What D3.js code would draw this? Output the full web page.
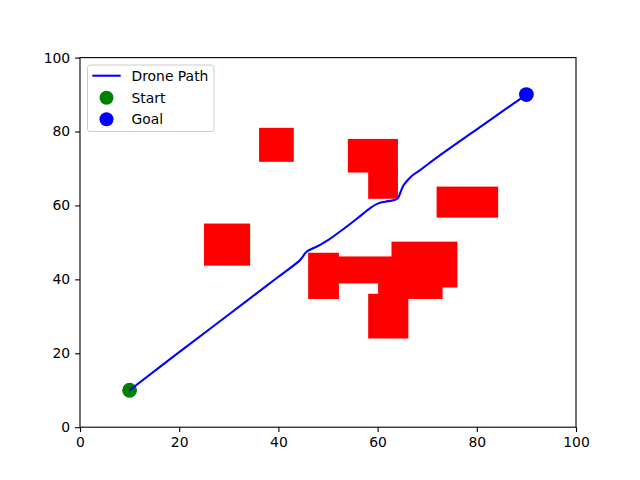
<!DOCTYPE html>
<html><head><meta charset="utf-8">
<script src="https://cdn.jsdelivr.net/npm/d3@7"></script>
<style>body{margin:0;background:#fff}svg{display:block}text{font-family:"DejaVu Sans",sans-serif}</style>
</head><body><svg id="c" width="640" height="480"></svg>
<script>
const xTicks=[0,20,40,60,80,100];
const yTicks=[0,20,40,60,80,100];
const obsX=[36.1,25.0,54.0,58.1,46.0,50.0,62.8,58.1,60.1,71.9];
const obsY=[71.8,43.7,68.9,61.8,34.7,38.9,37.8,24.0,34.7,56.7];
const obsW=[7.0,9.3,10.1,6.0,6.2,13.0,13.3,8.1,13.0,12.4];
const obsH=[9.2,11.4,9.1,8.0,12.5,7.3,12.4,12.1,10.0,8.4];
const pathX=[10,20,30,40,44.2,44.9,45.4,46.0,47.0,48.5,50,53,56,58.5,60.0,61.5,63.2,64.0,64.4,64.8,65.3,65.9,67,68.5,72.6,80,85,90];
const pathY=[10,20.3,30.5,40.7,45.0,46.1,47.1,47.8,48.4,49.4,50.6,53.5,56.6,59.3,60.5,61.0,61.4,61.8,62.8,64.2,65.6,66.6,68.1,69.5,73.6,80.6,85.3,90];
const startPt=[10,10], goalPt=[90,90];
const legendLabels=["Drone Path","Start","Goal"];

const svg=d3.select("#c");
const L=80,R=576,T=57.6,B=427.2;
const x=d3.scaleLinear().domain([0,100]).range([L,R]);
const y=d3.scaleLinear().domain([0,100]).range([B,T]);

svg.append("g").selectAll("rect").data(obsX).join("rect")
 .attr("x",(d,i)=>x(obsX[i])).attr("y",(d,i)=>y(obsY[i]+obsH[i]))
 .attr("width",(d,i)=>x(obsX[i]+obsW[i])-x(obsX[i]))
 .attr("height",(d,i)=>y(obsY[i])-y(obsY[i]+obsH[i]))
 .attr("fill","#ff0000");

svg.append("circle").attr("cx",x(startPt[0])).attr("cy",y(startPt[1])).attr("r",7.4).attr("fill","#008000");
svg.append("circle").attr("cx",x(goalPt[0])).attr("cy",y(goalPt[1])).attr("r",7.4).attr("fill","#0000ff");

const line=d3.line().x(d=>x(d[0])).y(d=>y(d[1])).curve(d3.curveCatmullRom.alpha(0.5));
svg.append("path").datum(pathX.map((v,i)=>[v,pathY[i]])).attr("d",line)
 .attr("fill","none").attr("stroke","#0000ff").attr("stroke-width",2.08);

const xa=svg.append("g").attr("transform",`translate(0,${B})`)
 .call(d3.axisBottom(x).tickValues(xTicks).tickFormat(d3.format("d")).tickSizeOuter(0).tickSize(4.9).tickPadding(4.9));
const ya=svg.append("g").attr("transform",`translate(${L},0)`)
 .call(d3.axisLeft(y).tickValues(yTicks).tickFormat(d3.format("d")).tickSizeOuter(0).tickSize(4.9).tickPadding(4.9));
[xa,ya].forEach(a=>{a.select(".domain").remove();a.selectAll("line").attr("stroke","#000").attr("stroke-width",1.1);
 a.selectAll("text").attr("font-size","13.9px").attr("fill","#000").attr("font-family","DejaVu Sans");});
svg.append("rect").attr("x",L).attr("y",T).attr("width",R-L).attr("height",B-T)
 .attr("fill","none").attr("stroke","#000").attr("stroke-width",1.1);

const lg=svg.append("g");
lg.append("rect").attr("x",87.5).attr("y",65).attr("width",126.5).attr("height",66.5).attr("rx",2.5)
 .attr("fill","#fff").attr("fill-opacity",0.8).attr("stroke","#cccccc").attr("stroke-width",1);
const ly=[75.7,97.7,119.3];
lg.append("line").attr("x1",92.3).attr("x2",120.7).attr("y1",ly[0]).attr("y2",ly[0]).attr("stroke","#0000ff").attr("stroke-width",2.08);
lg.append("circle").attr("cx",106.5).attr("cy",ly[1]).attr("r",7).attr("fill","#008000");
lg.append("circle").attr("cx",106.5).attr("cy",ly[2]).attr("r",7).attr("fill","#0000ff");
lg.selectAll("text.l").data(legendLabels).join("text").attr("class","l")
 .attr("x",131.5).attr("y",(d,i)=>ly[i]).attr("dy","0.35em").attr("font-size","13.9px").attr("fill","#000").text(d=>d);
</script></body></html>
